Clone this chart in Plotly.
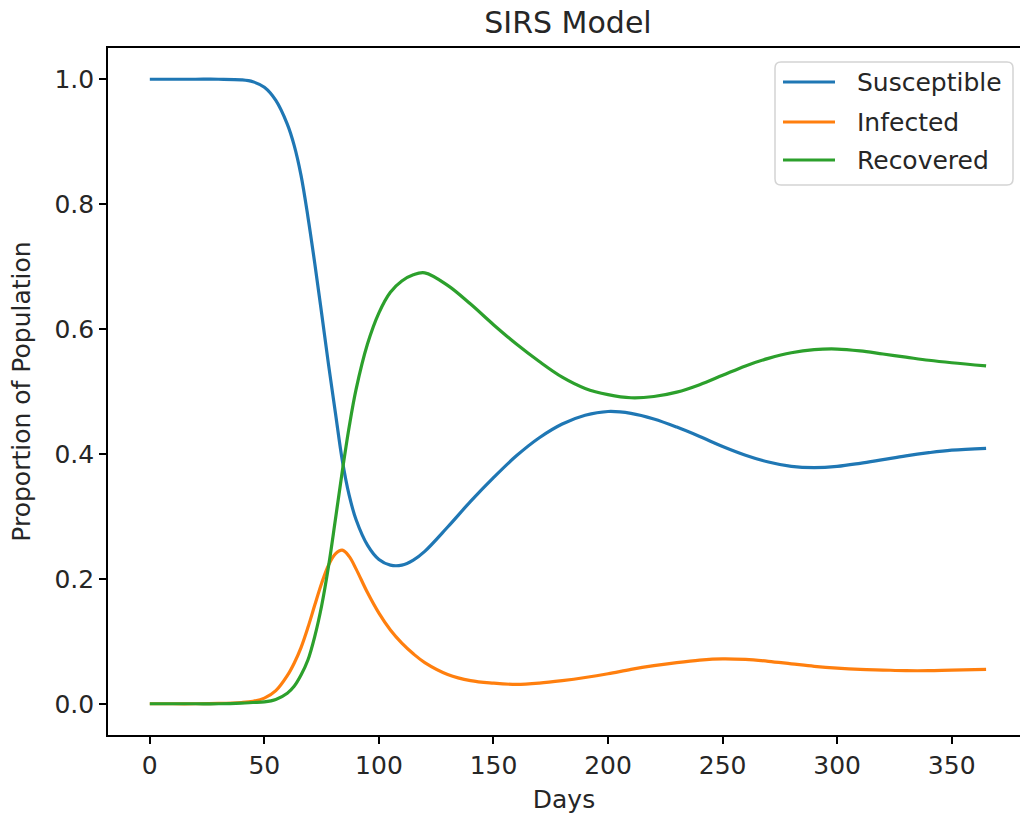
import plotly.graph_objects as go

# Simulated SIRS epidemic over one year (proportions of the population)
days = [0, 10, 20, 30, 40, 45, 50, 55, 60, 63, 66, 69, 72, 75, 78, 81, 84, 87, 90,
        95, 100, 105, 110, 115, 120, 130, 140, 150, 160, 170, 180, 190, 200, 210,
        220, 230, 240, 250, 260, 270, 280, 290, 300, 310, 320, 330, 340, 350, 365]

susceptible = [1.0, 1.0, 1.0, 1.0, 0.999, 0.996, 0.987, 0.966, 0.928, 0.894, 0.846,
               0.78, 0.705, 0.625, 0.543, 0.466, 0.39, 0.334, 0.295, 0.254, 0.231,
               0.222, 0.222, 0.230, 0.244, 0.283, 0.324, 0.362, 0.397, 0.426, 0.448,
               0.462, 0.468, 0.465, 0.456, 0.443, 0.428, 0.412, 0.398, 0.387, 0.380,
               0.378, 0.380, 0.385, 0.391, 0.397, 0.402, 0.406, 0.409]

infected = [0.0, 0.0, 0.0, 0.0005, 0.002, 0.004, 0.009, 0.021, 0.045, 0.065, 0.090,
            0.122, 0.158, 0.193, 0.222, 0.240, 0.246, 0.236, 0.216, 0.178, 0.145,
            0.118, 0.097, 0.080, 0.066, 0.047, 0.037, 0.033, 0.031, 0.033, 0.037,
            0.042, 0.048, 0.055, 0.061, 0.066, 0.070, 0.072, 0.071, 0.068, 0.064,
            0.060, 0.057, 0.055, 0.054, 0.053, 0.053, 0.054, 0.055]

recovered = [0.0, 0.0, 0.0, 0.0, 0.001, 0.002, 0.003, 0.007, 0.017, 0.028, 0.046,
             0.070, 0.108, 0.157, 0.220, 0.295, 0.372, 0.443, 0.503, 0.576, 0.626,
             0.659, 0.677, 0.687, 0.690, 0.670, 0.640, 0.607, 0.576, 0.548, 0.523,
             0.505, 0.495, 0.490, 0.492, 0.499, 0.511, 0.526, 0.541, 0.553, 0.562,
             0.567, 0.568, 0.565, 0.560, 0.555, 0.550, 0.546, 0.541]

series = [
    ("Susceptible", susceptible, "#1f77b4"),
    ("Infected", infected, "#ff7f0e"),
    ("Recovered", recovered, "#2ca02c"),
]

FONT = "DejaVu Sans, Verdana, sans-serif"
TEXT = "#262626"
W, H = 1020, 816
ML, MR, MT, MB = 108, 0, 48, 81
PW, PH = W - ML - MR, H - MT - MB


def px_x(x):
    """Pixel column -> paper fraction."""
    return (x - ML) / PW


def px_y(y):
    """Pixel row (from top) -> paper fraction."""
    return (H - MB - y) / PH


fig = go.Figure()
for name, values, color in series:
    fig.add_trace(go.Scatter(
        x=days, y=values, name=name, mode="lines", showlegend=False,
        line=dict(color=color, width=3.2, shape="spline", smoothing=1.0),
    ))

# Legend box (rounded corners) drawn in the upper right of the axes
bx0, bx1, by0, by1, r = 775, 1013, 62, 185, 6
path = (
    f"M {px_x(bx0 + r)},{px_y(by0)} L {px_x(bx1 - r)},{px_y(by0)} "
    f"Q {px_x(bx1)},{px_y(by0)} {px_x(bx1)},{px_y(by0 + r)} "
    f"L {px_x(bx1)},{px_y(by1 - r)} "
    f"Q {px_x(bx1)},{px_y(by1)} {px_x(bx1 - r)},{px_y(by1)} "
    f"L {px_x(bx0 + r)},{px_y(by1)} "
    f"Q {px_x(bx0)},{px_y(by1)} {px_x(bx0)},{px_y(by1 - r)} "
    f"L {px_x(bx0)},{px_y(by0 + r)} "
    f"Q {px_x(bx0)},{px_y(by0)} {px_x(bx0 + r)},{px_y(by0)} Z"
)
fig.add_shape(type="path", path=path, xref="paper", yref="paper",
              fillcolor="rgba(255,255,255,0.8)",
              line=dict(color="#d4d4d4", width=1.5), layer="above")

entry_rows = [82, 122, 160]
for (name, _, color), row in zip(series, entry_rows):
    fig.add_shape(type="line", xref="paper", yref="paper",
                  x0=px_x(783), x1=px_x(835), y0=px_y(row), y1=px_y(row),
                  line=dict(color=color, width=3.2), layer="above")
    fig.add_annotation(text=name, xref="paper", yref="paper",
                       x=px_x(855), y=px_y(row), xanchor="left", yanchor="middle",
                       showarrow=False,
                       font=dict(family=FONT, size=25, color=TEXT))

fig.update_layout(
    width=W, height=H,
    margin=dict(l=ML, r=MR, t=MT, b=MB),
    paper_bgcolor="white", plot_bgcolor="white",
    font=dict(family=FONT, size=25, color=TEXT),
    title=dict(text="SIRS Model", x=(108 + 1028) / 2 / W, xanchor="center",
               y=1 - 22 / H, yanchor="middle",
               font=dict(family=FONT, size=30, color=TEXT)),
    showlegend=False,
    xaxis=dict(
        range=[-18.25, 379.8], tickvals=[0, 50, 100, 150, 200, 250, 300, 350],
        showgrid=False, zeroline=False,
        showline=True, mirror=True, linecolor="black", linewidth=1.6,
        ticks="outside", ticklen=7, tickwidth=1.6, tickcolor="black",
        tickfont=dict(family=FONT, size=25, color=TEXT),
        title=dict(text="Days", standoff=12,
                   font=dict(family=FONT, size=25, color=TEXT)),
    ),
    yaxis=dict(
        range=[-0.05, 1.05], tickvals=[0.0, 0.2, 0.4, 0.6, 0.8, 1.0],
        ticktext=["0.0", "0.2", "0.4", "0.6", "0.8", "1.0"],
        showgrid=False, zeroline=False,
        showline=True, mirror=False, linecolor="black", linewidth=1.6,
        ticks="outside", ticklen=7, tickwidth=1.6, tickcolor="black",
        tickfont=dict(family=FONT, size=25, color=TEXT),
        title=dict(text="Proportion of Population", standoff=17,
                   font=dict(family=FONT, size=25, color=TEXT)),
    ),
)

fig.write_html("out.html")
